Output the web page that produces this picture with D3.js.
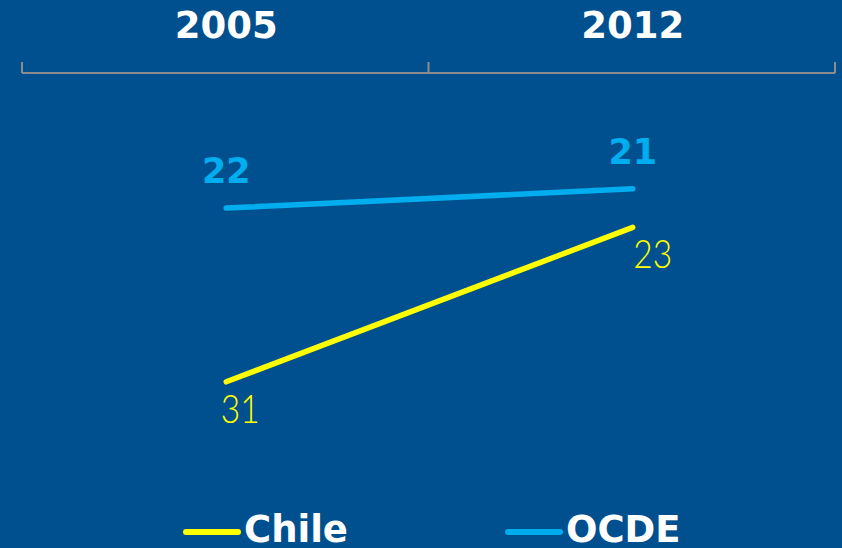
<!DOCTYPE html>
<html><head><meta charset="utf-8">
<script src="https://cdn.jsdelivr.net/npm/d3@7"></script>
<style>html,body{margin:0;padding:0;background:#00508F;}svg{display:block;}</style>
</head><body>
<script>
const years = ["2005", "2012"];
const chile = [31, 23];
const ocde = [22, 21];
const seriesNames = ["Chile", "OCDE"];
const seriesColors = ["#FFFF00", "#00AEEF"];

const W = 842, H = 548;
const svg = d3.select("body").append("svg").attr("width", W).attr("height", H);
svg.append("rect").attr("width", W).attr("height", H).attr("fill", "#00508F");

const x = d3.scaleBand().domain(years).range([22, 835]);
const y = d3.scaleLinear().domain([15, 35]).range([73, 459]);
const cx = d => x(d) + x.bandwidth() / 2 + 1;

// top axis (bracket style)
const axisG = svg.append("g").attr("transform", "translate(0,73)");
axisG.append("line").attr("x1", 22).attr("x2", 835).attr("y1", 0).attr("y2", 0)
  .attr("stroke", "#8C8C8C").attr("stroke-width", 2);
const edges = [x.range()[0], x(years[1]), x.range()[1]];
axisG.selectAll("line.tk").data(edges).join("line").attr("class", "tk")
  .attr("x1", d => d).attr("x2", d => d).attr("y1", 0).attr("y2", -11)
  .attr("stroke", "#8C8C8C").attr("stroke-width", 2);
svg.selectAll("text.yr").data(years).join("text").attr("class", "yr")
  .attr("x", d => cx(d)).attr("y", 38).attr("text-anchor", "middle")
  .attr("font-family", "DejaVu Sans").attr("font-weight", "bold").attr("font-size", 37)
  .attr("fill", "#FFFFFF").text(d => d);

const line = d3.line().x((d, i) => cx(years[i])).y(d => y(d));
svg.append("path").datum(ocde).attr("d", line).attr("fill", "none")
  .attr("stroke", seriesColors[1]).attr("stroke-width", 5.5).attr("stroke-linecap", "round");
svg.append("path").datum(chile).attr("d", line).attr("fill", "none")
  .attr("stroke", seriesColors[0]).attr("stroke-width", 5.5).attr("stroke-linecap", "round");

// OCDE labels (above)
svg.selectAll("text.oc").data(ocde).join("text").attr("class", "oc")
  .attr("x", (d, i) => cx(years[i])).attr("y", d => y(d) - 25).attr("text-anchor", "middle")
  .attr("font-family", "DejaVu Sans").attr("font-weight", "bold").attr("font-size", 35)
  .attr("fill", seriesColors[1]).text(d => d);

// Chile labels (below)
svg.selectAll("text.ch").data(chile).join("text").attr("class", "ch")
  .attr("transform", (d, i) => `translate(${cx(years[i]) + (i === 0 ? 14 : 20)},${y(d) + 41}) scale(0.84,1)`)
  .attr("text-anchor", "middle")
  .attr("font-family", "Lato").attr("font-weight", 300).attr("font-size", 40)
  .attr("fill", seriesColors[0]).text(d => d);

// legend
const legX = [186, 508];
const lg = svg.selectAll("g.lg").data(seriesNames).join("g").attr("class", "lg")
  .attr("transform", (d, i) => `translate(${legX[i]},532)`);
lg.append("line").attr("x1", 0).attr("x2", 52).attr("y1", 0).attr("y2", 0)
  .attr("stroke", (d, i) => seriesColors[i]).attr("stroke-width", 6).attr("stroke-linecap", "round");
lg.append("text").attr("x", 58).attr("y", 10)
  .attr("font-family", "DejaVu Sans").attr("font-weight", "bold").attr("font-size", 37)
  .attr("fill", "#FFFFFF").text(d => d);
</script>
</body></html>
